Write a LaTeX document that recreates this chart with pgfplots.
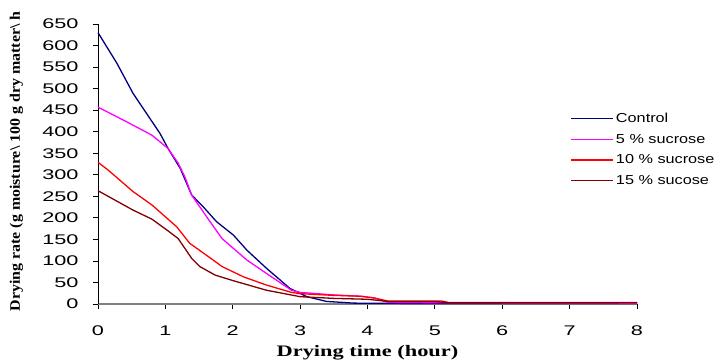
\documentclass[border=0pt]{standalone}
\usepackage{fontspec}
\usepackage{pgfplots}
\pgfplotsset{compat=1.18}
\newfontfamily\tickfont[FakeStretch=1.55]{Liberation Sans}
\newfontfamily\legfont[FakeStretch=1.25]{Liberation Sans}
\newfontfamily\titlefont[FakeStretch=1.4]{Liberation Serif}
\newfontfamily\ylabfont[FakeStretch=1.1]{Liberation Serif}
\definecolor{cnavy}{HTML}{000080}
\definecolor{cmag}{HTML}{FF00FF}
\definecolor{cred}{HTML}{FF0000}
\definecolor{cdark}{HTML}{800000}
\definecolor{axgray}{HTML}{808080}
\begin{document}
\begin{tikzpicture}
\path[use as bounding box] (0,0) rectangle (725bp,360bp);
\begin{axis}[
  at={(98bp,56bp)}, anchor=south west,
  scale only axis, width=539bp, height=280bp,
  xmin=0, xmax=8, ymin=0, ymax=650,
  xtick={0,1,...,8}, ytick={0,50,...,650},
  axis x line*=bottom, axis y line*=left,
  x axis line style={axgray, line width=2bp, -},
  y axis line style={black, line width=0.9bp, -},
  tick align=outside, major tick length=5bp,
  every tick/.style={black, line width=0.8bp},
  /pgf/number format/assume math mode=true,
  every tick label/.append style={font=\tickfont\fontsize{14bp}{16bp}\selectfont},
  every x tick label/.append style={yshift=-13bp},
  every y tick label/.append style={xshift=-11bp},
  xlabel={Drying time (hour)},
  xlabel style={font=\titlefont\bfseries\fontsize{16bp}{18bp}\selectfont, at={(axis description cs:0.5,0)}, anchor=center, yshift=-49bp},
  ylabel={Drying rate (g moisture\textbackslash\ 100 g dry matter\textbackslash\ h},
  ylabel style={font=\ylabfont\bfseries\fontsize{14.5bp}{16bp}\selectfont, at={(axis description cs:-0.1512,-0.0393)}, anchor=west, rotate=0},
  clip=false,
  legend style={draw=none, fill=none, at={(axis description cs:0.8766,0.6888)}, anchor=north west, inner sep=0pt, row sep=6bp,
    font=\legfont\fontsize{13bp}{15bp}\selectfont},
  legend cell align=left,
  legend image code/.code={\draw[line width=1.3bp] (0bp,0bp) -- (42bp,0bp);},
]
\addplot[draw=cnavy, color=cnavy, line width=1.3bp] coordinates {
(0,630) (0.28,559) (0.52,489) (0.92,396) (1.04,361) (1.22,315) (1.39,253) (1.56,226) (1.76,191) (2.01,160) (2.21,125) (2.50,83) (2.85,36) (3.10,17) (3.39,6) (3.8,2) (4.5,1.5) (8,1.5)};
\addlegendentry{Control}
\addplot[draw=cmag, color=cmag, line width=1.3bp] coordinates {
(0,457) (0.40,425) (0.80,392) (1.04,361) (1.19,327) (1.29,295) (1.39,253) (1.61,203) (1.84,152) (2.21,102) (2.50,71) (2.87,32) (3.0,27) (3.5,21) (3.9,18) (4.1,14) (4.3,4) (5,3) (8,2)};
\addlegendentry{5 \% sucrose}
\addplot[draw=cred, color=cred, line width=1.3bp] coordinates {
(0,329) (0.15,311) (0.52,261) (0.80,230) (1.17,179) (1.36,141) (1.71,102) (1.84,87) (2.16,63) (2.50,44) (2.87,27) (3.0,24) (3.5,20) (3.9,18) (4.1,14) (4.3,7) (5.1,7) (5.2,3.5) (8,3.5)};
\addlegendentry{10 \% sucrose}
\addplot[draw=cdark, color=cdark, line width=1.3bp] coordinates {
(0,263) (0.52,218) (0.80,197) (1.02,172) (1.19,152) (1.29,129) (1.39,106) (1.51,87) (1.74,67) (2.01,54) (2.50,32) (3.0,17) (3.5,13) (4.0,11) (4.3,6) (5.0,6) (5.2,3) (8,3)};
\addlegendentry{15 \% sucose}
\end{axis}
\end{tikzpicture}
\end{document}
